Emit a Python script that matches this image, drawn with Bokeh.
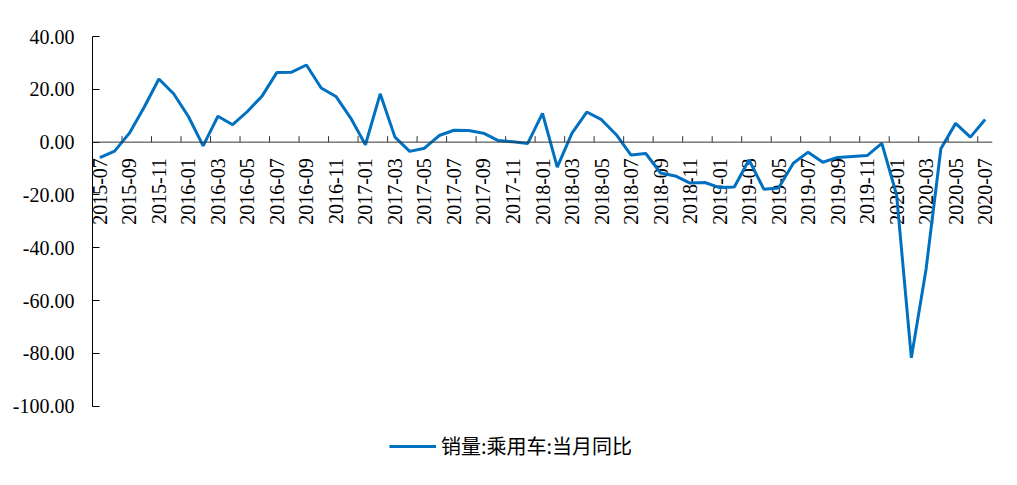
import math
from bokeh.plotting import figure
from bokeh.models import FixedTicker, NumeralTickFormatter, Span, Legend, LegendItem
from bokeh.core.properties import value
from bokeh.embed import file_html
from bokeh.resources import INLINE

# ---- data ----
months = [f"{y}-{m:02d}" for y in range(2015, 2021) for m in range(1, 13)]
months = months[months.index("2015-07"):months.index("2020-07") + 1]

yoy = [-5.9, -3.4, 3.4, 13.2, 23.9, 18.3, 9.7, -1.4, 9.8, 6.6,
       11.6, 17.5, 26.4, 26.5, 29.2, 20.5, 17.3, 9.1, -1.0, 18.3,
       1.9, -3.5, -2.3, 2.5, 4.5, 4.4, 3.4, 0.6, 0.1, -0.5,
       10.9, -9.5, 3.4, 11.4, 8.5, 2.8, -4.9, -4.3, -11.7, -12.8,
       -15.5, -15.3, -17.2, -17.0, -6.7, -17.8, -17.4, -8.0, -3.8, -7.6,
       -5.8, -5.4, -5.1, -0.5, -20.0, -81.7, -48.0, -2.5, 7.1, 1.9,
       8.6]

y_ticks = [-100, -80, -60, -40, -20, 0, 20, 40]
series_name = "销量:乘用车:当月同比"

idx = list(range(len(months)))
label_idx = idx[::2]
label_txt = months[::2]
tick_pos = [i - 0.5 for i in label_idx[1:]]

# ---- figure ----
W, H = 1005, 480
TOP, BOTTOM, LEFT, RIGHT = 36, 8, 92, 13
frame_h = H - TOP - BOTTOM
px_per_unit = 369.7 / 140.0
y_start = 40 - frame_h / px_per_unit

p = figure(width=W, height=H, output_backend="svg", toolbar_location=None,
           x_range=(-0.5, len(months) - 0.5), y_range=(y_start, 40),
           x_axis_type=None, min_border_top=TOP, min_border_bottom=BOTTOM,
           min_border_left=LEFT, min_border_right=RIGHT)
p.outline_line_color = None
p.grid.visible = False
p.background_fill_color = "white"

ya = p.yaxis[0]
ya.ticker = FixedTicker(ticks=y_ticks)
ya.bounds = (-100, 40)
ya.formatter = NumeralTickFormatter(format="0.00")
ya.major_tick_in = 7
ya.major_tick_out = 0
ya.minor_tick_in = 0
ya.minor_tick_out = 0
ya.major_label_standoff = 18
ya.axis_line_color = "black"
ya.major_tick_line_color = "black"
ya.major_label_text_font = "Liberation Serif"
ya.major_label_text_font_size = "20px"
ya.major_label_text_color = "black"

# zero line acting as category axis
p.add_layout(Span(location=0, dimension="width", line_color="#333333", line_width=1))
tick_len = 6 / px_per_unit
p.segment(x0=tick_pos, y0=[0] * len(tick_pos), x1=tick_pos, y1=[tick_len] * len(tick_pos),
          line_color="#333333", line_width=1)

p.text(x=label_idx, y=[0] * len(label_idx), text=label_txt, angle=math.pi / 2,
       text_align="right", text_baseline="middle", y_offset=16,
       text_font=value("Liberation Serif"), text_font_size="20px", text_color="black")

r = p.line(x=idx, y=yoy, line_color="#0070C0", line_width=3)

legend = Legend(items=[LegendItem(label=series_name, renderers=[r])],
                location=(297, 12), orientation="horizontal",
                glyph_width=47, glyph_height=20, label_standoff=5,
                label_text_font="Noto Sans CJK SC", label_text_font_size="20px",
                label_text_color="black", border_line_color=None,
                background_fill_alpha=0, padding=0, margin=0)
p.add_layout(legend)

open("out.html", "w").write(file_html(p, INLINE))
